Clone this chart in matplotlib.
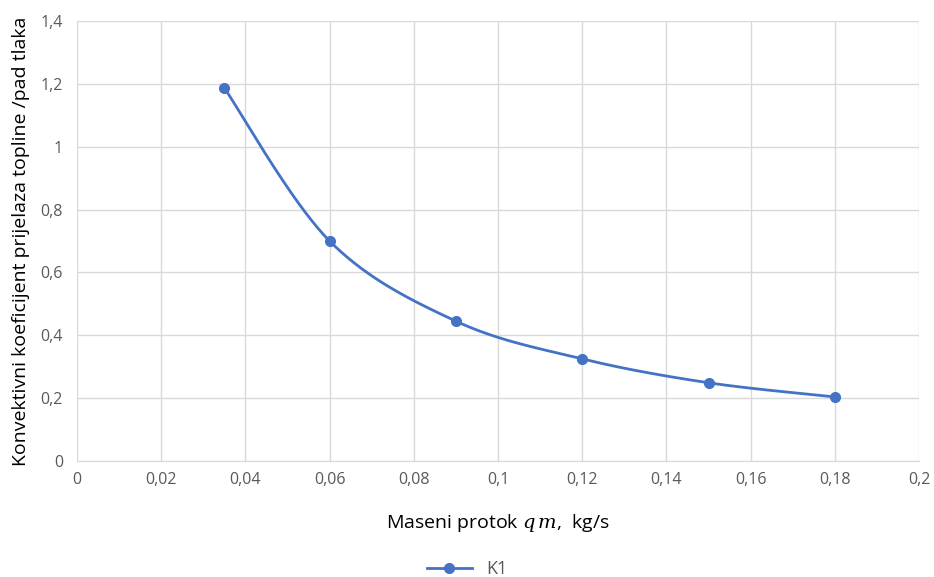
import numpy as np
import matplotlib
matplotlib.use("Agg")
import matplotlib.pyplot as plt

# podaci očitani s grafa
maseni_protok = [0.035, 0.06, 0.09, 0.12, 0.15, 0.18]
omjer_k1 = [1.187, 0.700, 0.445, 0.325, 0.249, 0.204]
x_ticks = [0, 0.02, 0.04, 0.06, 0.08, 0.1, 0.12, 0.14, 0.16, 0.18, 0.2]
y_ticks = [0, 0.2, 0.4, 0.6, 0.8, 1.0, 1.2, 1.4]

BLUE = '#4472C4'
GRID = '#d9d9d9'
TXT = '#595959'

plt.rcParams['font.family'] = ['Open Sans', 'DejaVu Sans']
plt.rcParams['mathtext.fontset'] = 'dejavuserif'


def smooth(x, y, n=40):
    """Excel-like smoothed line (Bezier, Catmull-Rom control points)"""
    p = np.column_stack([x, y])
    out = []
    for i in range(len(p) - 1):
        p0 = p[i - 1] if i > 0 else p[i]
        p1, p2 = p[i], p[i + 1]
        p3 = p[i + 2] if i + 2 < len(p) else p[i + 1]
        c1 = p1 + (p2 - p0) / 6
        c2 = p2 - (p3 - p1) / 6
        t = np.linspace(0, 1, n)[:, None]
        seg = (1 - t) ** 3 * p1 + 3 * (1 - t) ** 2 * t * c1 + 3 * (1 - t) * t ** 2 * c2 + t ** 3 * p2
        out.append(seg if i == 0 else seg[1:])
    s = np.vstack(out)
    return s[:, 0], s[:, 1]


def fmt(v):
    s = f"{v:.2f}".rstrip('0').rstrip('.')
    return s.replace('.', ',')


fig = plt.figure(figsize=(9.34, 5.77), dpi=100)
ax = fig.add_axes([0.0824, 0.201, 0.9016, 0.7626])

sx, sy = smooth(maseni_protok, omjer_k1)
ax.plot(sx, sy, color=BLUE, lw=2, zorder=3)
ax.plot(maseni_protok, omjer_k1, 'o', color=BLUE, ms=7, zorder=4)
# legend handle
ax.plot([], [], '-o', color=BLUE, lw=2, ms=7, label='K1')

ax.set_xlim(0, 0.2)
ax.set_ylim(0, 1.4)
ax.set_xticks(x_ticks)
ax.set_yticks(y_ticks)
ax.set_xticklabels([fmt(v) for v in x_ticks])
ax.set_yticklabels([fmt(v) for v in y_ticks])
ax.tick_params(length=0, labelsize=11.5, colors=TXT, pad=8)
ax.tick_params(axis='y', pad=10)
ax.grid(True, color=GRID, lw=1)
ax.set_axisbelow(True)
for side in ['top', 'right', 'left']:
    ax.spines[side].set_visible(False)
ax.spines['bottom'].set_color(GRID)

ax.set_xlabel('Maseni protok $q\\,m$,  kg/s', fontsize=14, labelpad=17)
ax.set_ylabel('Konvektivni koeficijent prijelaza topline /pad tlaka', fontsize=14, labelpad=8)

fig.legend(loc='lower center', bbox_to_anchor=(0.5, -0.03), frameon=False, fontsize=13,
           handlelength=2.5, labelcolor=TXT)

fig.savefig('out.png', dpi=100)
